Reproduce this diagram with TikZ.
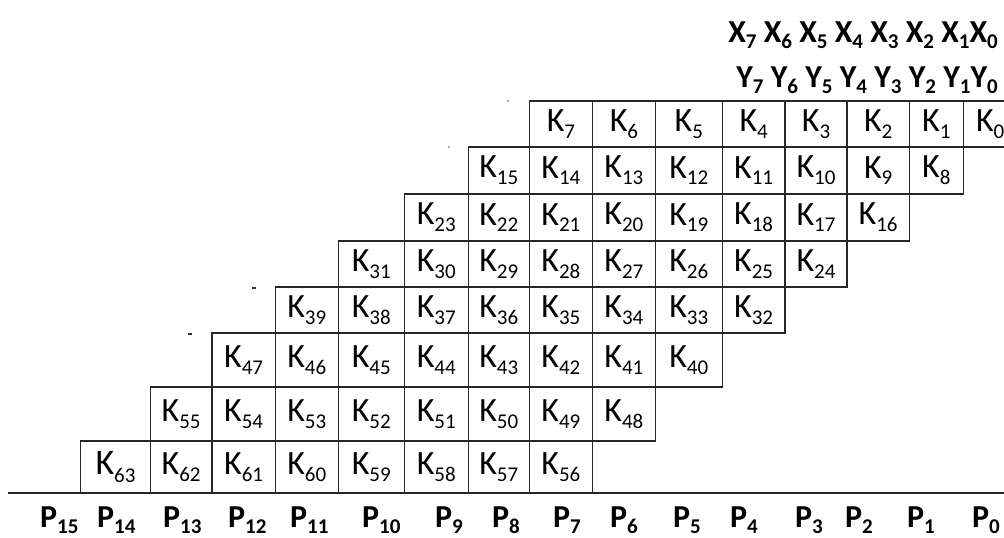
\documentclass[tikz,border=0pt]{standalone}
\usepackage{fontspec}
\setmainfont{Carlito}
\usetikzlibrary{positioning}
\newcommand{\ksub}[1]{\raisebox{-.2em}{\fontsize{21}{21}\selectfont #1}}
\tikzset{
  cell/.style={
    draw=black!85,
    line width=1.2pt,
    inner sep=0pt,
    align=center
  },
  outbit/.style={
    anchor=base west,
    inner sep=0pt,
    font=\fontsize{32}{38}\selectfont\bfseries
  },
  inbits/.style={
    anchor=base east,
    inner sep=0pt,
    font=\fontsize{32}{38}\selectfont\bfseries
  },
  rule/.style={
    line width=1.8pt,
    black!85
  }
}
% column and row borders of the staircase, in px
\def\colx{{80.7,150.3,212,275.3,338.3,404.3,468.3,529.3,592.5,655.3,722.3,785,847,909.3,963.3,1017}}
\def\rowy{{101,147,194,241,287,333,387,441,493}}

\begin{document}
\begin{tikzpicture}[x=1pt,y=-1pt]
\useasboundingbox (0,0) rectangle (1004,538);

% operand bits
\node[inbits] (xbits) at (998,42) {X\ksub{7} X\ksub{6} X\ksub{5} X\ksub{4} X\ksub{3} X\ksub{2} X\ksub{1}X\ksub{0}};
\node[inbits] (ybits) at (998,87) {Y\ksub{7} Y\ksub{6} Y\ksub{5} Y\ksub{4} Y\ksub{3} Y\ksub{2} Y\ksub{1}Y\ksub{0}};

% partial products
\foreach \r in {0,...,7}{
  \foreach \j in {0,...,7}{
    \pgfmathtruncatemacro{\c}{14-\r-\j}
    \pgfmathtruncatemacro{\k}{8*\r+\j}
    \pgfmathsetmacro{\xa}{\colx[\c]}
    \pgfmathsetmacro{\xb}{\colx[\c+1]}
    \pgfmathsetmacro{\ya}{\rowy[\r]}
    \pgfmathsetmacro{\yb}{\rowy[\r+1]}
    \pgfmathsetmacro{\w}{\xb-\xa}
    \pgfmathsetmacro{\h}{\yb-\ya}
    \pgfmathsetmacro{\fs}{ifthenelse(\k==63,36,34)}
    \node[cell,minimum width=\w pt,minimum height=\h pt,font=\fontsize{\fs}{40}\selectfont]
      (k\k) at ({(\xa+\xb)/2},{(\ya+\yb)/2}) {K\ksub{\k}};
  }
}

% stray marks left of the rows
\fill[black!70] (508,101) circle (0.9pt);
\fill[black!70] (449,147) circle (0.9pt);
\fill[black!80] (252,287) rectangle (256,288.5);
\fill[black!80] (188,333) rectangle (192,334.5);

% result line
\coordinate (rl) at (8,493);
\coordinate (rr) at (1004,493);
\draw[rule] (rl) -- (rr);

% product bits
\foreach \px [count=\i from 0] in {972,907,845,795,730,673,610,553,492,435,362,290,228,163,97,40}{
  \node[outbit] (p\i) at (\px,527) {P\ksub{\i}};
}
\end{tikzpicture}
\end{document}
